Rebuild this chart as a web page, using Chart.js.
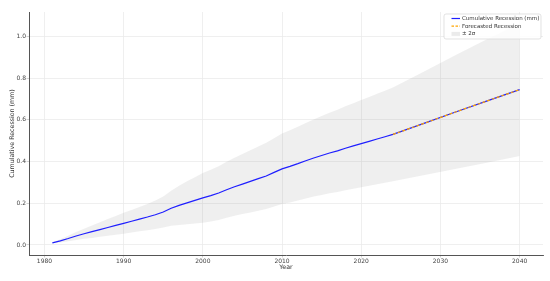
<!DOCTYPE html>
<html>
<head>
<meta charset="utf-8">
<script src="https://cdn.jsdelivr.net/npm/chart.js@4/dist/chart.umd.min.js"></script>
<style>
  body { margin: 0; background: #fff; }
  #c { display: block; }
</style>
</head>
<body>
<canvas id="c" width="550" height="281"></canvas>
<script>
// Observed cumulative recession, 1981..2024
const histStart = 1981;
const histValues = [
  0.010, 0.020, 0.031, 0.043, 0.054, 0.064, 0.074, 0.084, 0.094, 0.104,
  0.114, 0.124, 0.134, 0.145, 0.158, 0.176, 0.190, 0.202, 0.214, 0.226,
  0.237, 0.249, 0.265, 0.279, 0.292, 0.305, 0.318, 0.331, 0.348, 0.365,
  0.377, 0.390, 0.404, 0.417, 0.429, 0.441, 0.451, 0.464, 0.475, 0.486,
  0.497, 0.508, 0.519, 0.530
];
// Forecast (straight dashed line)
const forecastYears = [2024, 2028, 2032, 2036, 2040];
const forecastValues = [0.530, 0.584, 0.639, 0.692, 0.745];

// +/- 2 sigma band, yearly up to 2024 then sparser
const bandUpperHist = [
  0.012, 0.028, 0.044, 0.062, 0.078, 0.094, 0.109, 0.124, 0.139, 0.154,
  0.168, 0.182, 0.197, 0.213, 0.232, 0.260, 0.284, 0.305, 0.325, 0.345,
  0.361, 0.378, 0.399, 0.418, 0.436, 0.454, 0.472, 0.490, 0.512, 0.534,
  0.550, 0.567, 0.585, 0.602, 0.618, 0.634, 0.648, 0.665, 0.680, 0.695,
  0.710, 0.725, 0.740, 0.755
];
const bandLowerHist = [
  0.008, 0.012, 0.018, 0.024, 0.030, 0.034, 0.039, 0.044, 0.049, 0.054,
  0.060, 0.066, 0.071, 0.077, 0.084, 0.092, 0.096, 0.099, 0.103, 0.107,
  0.113, 0.120, 0.131, 0.140, 0.148, 0.156, 0.164, 0.172, 0.184, 0.196,
  0.204, 0.213, 0.223, 0.232, 0.240, 0.248, 0.254, 0.263, 0.270, 0.277,
  0.284, 0.291, 0.298, 0.305
];
const bandUpperForecast = [0.755, 0.833, 0.912, 0.989, 1.063];
const bandLowerForecast = [0.305, 0.335, 0.366, 0.395, 0.427];

const xTicks = [1980, 1990, 2000, 2010, 2020, 2030, 2040];
const yTicks = [0.0, 0.2, 0.4, 0.6, 0.8, 1.0];

const legendLabels = ["Cumulative Recession (mm)", "Forecasted Recession", "\u00b1 2\u03c3"];

// build point lists
function histPoints(values) {
  return values.map((v, i) => ({ x: histStart + i, y: v }));
}
function joinForecast(hist, fcValues) {
  const pts = histPoints(hist);
  forecastYears.forEach((yr, i) => { if (i > 0) pts.push({ x: yr, y: fcValues[i] }); });
  return pts;
}

const blueColor = "#1f1fff";
const orangeColor = "#ffa500";
const bandColor = "rgba(128,128,128,0.13)";
const font = "'DejaVu Sans', sans-serif";

// legend drawn inside plot, top right
const boxLegend = {
  id: "boxLegend",
  afterDraw(chart) {
    const ctx = chart.ctx;
    const x = 444, y = 14, w = 97, h = 25;
    ctx.save();
    ctx.beginPath();
    ctx.roundRect(x, y, w, h, 2);
    ctx.fillStyle = "rgba(255,255,255,0.85)";
    ctx.fill();
    ctx.strokeStyle = "#d6d6d6";
    ctx.lineWidth = 0.7;
    ctx.stroke();

    const rows = [18.5, 26.2, 33.9];
    ctx.lineWidth = 1.2;
    // solid blue
    ctx.strokeStyle = blueColor;
    ctx.beginPath(); ctx.moveTo(451.5, rows[0]); ctx.lineTo(460, rows[0]); ctx.stroke();
    // dashed orange
    ctx.strokeStyle = orangeColor;
    ctx.setLineDash([2.5, 1.5]);
    ctx.beginPath(); ctx.moveTo(451.5, rows[1]); ctx.lineTo(460, rows[1]); ctx.stroke();
    ctx.setLineDash([]);
    // band patch
    ctx.fillStyle = "#ebebeb";
    ctx.fillRect(451.5, rows[2] - 2, 8.5, 4);

    ctx.fillStyle = "#333";
    ctx.font = "5.5px " + font;
    ctx.textBaseline = "middle";
    legendLabels.forEach((t, i) => ctx.fillText(t, 462, rows[i]));
    ctx.restore();
  }
};

new Chart(document.getElementById("c"), {
  type: "line",
  data: {
    datasets: [
      {
        label: "Forecasted Recession",
        data: forecastYears.map((yr, i) => ({ x: yr, y: forecastValues[i] })),
        borderColor: orangeColor,
        borderWidth: 1.2,
        borderDash: [3, 2],
        pointRadius: 0,
        fill: false
      },
      {
        label: "Cumulative Recession (mm)",
        data: joinForecast(histValues, forecastValues),
        borderColor: blueColor,
        borderWidth: 1.2,
        pointRadius: 0,
        fill: false
      },
      {
        label: "upper",
        data: joinForecast(bandUpperHist, bandUpperForecast),
        borderWidth: 0,
        borderColor: "rgba(0,0,0,0)",
        backgroundColor: bandColor,
        pointRadius: 0,
        fill: "+1"
      },
      {
        label: "lower",
        data: joinForecast(bandLowerHist, bandLowerForecast),
        borderWidth: 0,
        borderColor: "rgba(0,0,0,0)",
        pointRadius: 0,
        fill: false
      }
    ]
  },
  options: {
    responsive: false,
    animation: false,
    devicePixelRatio: 1,
    layout: { padding: { top: 12, right: 7, left: 0, bottom: 0 } },
    plugins: {
      legend: { display: false },
      tooltip: { enabled: false }
    },
    elements: { line: { tension: 0 } },
    scales: {
      x: {
        type: "linear",
        min: 1978.05,
        max: 2042.95,
        afterBuildTicks: s => { s.ticks = xTicks.map(v => ({ value: v })); },
        afterFit: s => { s.height = 26; },
        grid: { color: "#ebebeb", lineWidth: 0.8, drawTicks: true, tickLength: 2.5, tickColor: "#c8c8c8" },
        border: { display: true, color: "#555", width: 1 },
        ticks: {
          color: "#444",
          padding: 0.5,
          maxRotation: 0,
          font: { family: font, size: 6 },
          callback: v => String(v)
        },
        title: {
          display: true,
          text: "Year",
          color: "#333",
          font: { family: font, size: 6.3 },
          padding: { top: 0, bottom: 9.4 }
        }
      },
      y: {
        type: "linear",
        min: -0.048,
        max: 1.117,
        afterBuildTicks: s => { s.ticks = yTicks.map(v => ({ value: v })); },
        afterFit: s => { s.width = 29; },
        grid: { color: "#ebebeb", lineWidth: 0.8, drawTicks: true, tickLength: 2.5, tickColor: "#c8c8c8" },
        border: { display: true, color: "#555", width: 1 },
        ticks: {
          color: "#444",
          padding: 0.5,
          font: { family: font, size: 6 },
          callback: v => v.toFixed(1)
        },
        title: {
          display: true,
          text: "Cumulative Recession (mm)",
          color: "#333",
          font: { family: font, size: 6.3 },
          padding: { top: 8.5, bottom: 0 }
        }
      }
    }
  },
  plugins: [boxLegend]
});
</script>
</body>
</html>
